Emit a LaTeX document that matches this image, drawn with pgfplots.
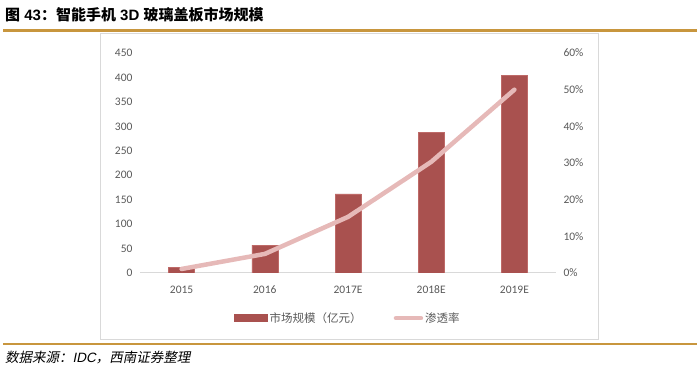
\documentclass[border=0pt]{standalone}
\usepackage{pgfplots}
\pgfplotsset{compat=1.18}
\usepackage{fontspec}
\setmainfont{Carlito}
\newfontfamily\cjk{Noto Sans CJK SC}
\newfontfamily\cjkit{Noto Sans CJK SC}[FakeSlant=0.2]
\newfontfamily\arialit{Liberation Sans}[FakeSlant=0.2]
\newfontfamily\arial{Liberation Sans}
\definecolor{barcol}{HTML}{A9514F}
\definecolor{baredge}{HTML}{BE6A68}
\definecolor{linecol}{HTML}{E6B9B8}
\definecolor{gold}{HTML}{C8963E}
\definecolor{boxgray}{HTML}{D9D9D9}
\definecolor{txt}{HTML}{595959}
\begin{document}
\begin{tikzpicture}
\path[use as bounding box] (0bp,0bp) rectangle (700bp,376bp);
% header / footer
\node[anchor=west,inner sep=0] at (5bp,361bp) {\arial\bfseries\fontsize{15bp}{17bp}\selectfont {\cjk\bfseries 图} 43{\cjk\bfseries ：智能手机} 3D {\cjk\bfseries 玻璃盖板市场规模}};
\draw[gold,line width=2.2bp] (3bp,345.5bp) -- (697bp,345.5bp);
\draw[gold,line width=2bp] (3bp,32bp) -- (697bp,32bp);
\node[anchor=west,inner sep=0] at (5bp,18bp) {\fontsize{13.5bp}{15bp}\selectfont\cjkit 数据来源：{\arialit IDC}，西南证券整理};
\draw[boxgray,line width=1bp] (100bp,36bp) rectangle (598.5bp,342bp);
\begin{axis}[
  at={(140bp,103bp)}, anchor=south west, scale only axis,
  width=416bp, height=220bp,
  xmin=-0.5, xmax=4.5, ymin=0, ymax=450,
  axis y line*=left, axis x line*=bottom,
  y axis line style={draw=none},
  x axis line style={draw=boxgray, line width=1bp},
  xtick=data, xticklabels={2015,2016,2017E,2018E,2019E},
  ytick={0,50,...,450},
  major tick length=0pt,
  tick label style={font=\fontsize{11.5bp}{13bp}\selectfont, text=txt},
  /pgf/number format/assume math mode=true,
  xticklabel style={yshift=-9bp, text height=8bp, text depth=1bp},
  yticklabel style={xshift=-4bp},
  ybar, bar width=26bp,
]
\addplot[fill=barcol, draw=baredge, line width=0.6bp] coordinates {(0,12) (1,57) (2,162) (3,288) (4,405)};
\end{axis}
\begin{axis}[
  at={(140bp,103bp)}, anchor=south west, scale only axis,
  width=416bp, height=220bp,
  xmin=-0.5, xmax=4.5, ymin=0, ymax=60,
  axis y line*=right, axis x line=none,
  y axis line style={draw=none},
  ytick={0,10,...,60},
  yticklabel={\pgfmathprintnumber{\tick}\%},
  major tick length=0pt,
  tick label style={font=\fontsize{11.5bp}{13bp}\selectfont, text=txt},
  /pgf/number format/assume math mode=true,
  yticklabel style={xshift=4bp},
  legend columns=2,
  legend style={at={(0.5,-0.205)}, anchor=center, draw=none, fill=none,
    font=\cjk\fontsize{11.5bp}{13bp}\selectfont, text=txt,
    /tikz/every even column/.append style={column sep=30bp}},
]
\addlegendimage{legend image code/.code={\fill[barcol] (0bp,-3.5bp) rectangle (33bp,3.5bp);}}
\addlegendentry{市场规模（亿元）}
\addplot[linecol, line width=4.5bp, line join=round, line cap=round,
  legend image code/.code={\draw[linecol,line width=4.5bp] (0bp,0bp) -- (25bp,0bp);}]
  coordinates {(0,1.1) (1,5.2) (2,15.3) (3,30.3) (4,50)};
\addlegendentry{渗透率}
\end{axis}
\end{tikzpicture}
\end{document}
